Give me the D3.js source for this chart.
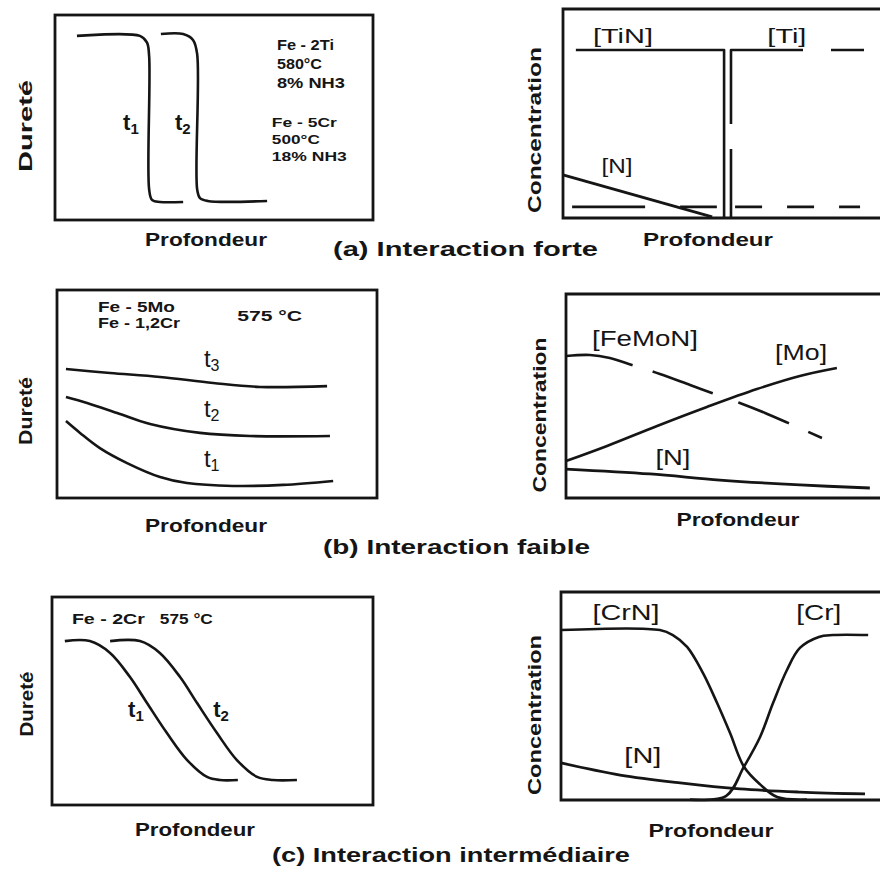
<!DOCTYPE html>
<html><head><meta charset="utf-8">
<script src="https://cdn.jsdelivr.net/npm/d3@7"></script>
<style>body{margin:0;background:#fff}svg{display:block}</style>
</head><body><svg id="c" width="880" height="872"></svg>
<script>
// ---------- DATA (depth, value) in 0..100 schematic units ----------
// (a) Interaction forte
const aDurT1 = [[6.9,89.8],[26.7,89.8],[28.9,86.6],[29.6,80],[29.6,15],[30.5,9.8],[33,8.8],[40.3,8.8]];
const aDurT2 = [[33.3,90.7],[40.3,90.7],[43.4,87.8],[44.7,81],[44.7,15],[45.6,10.7],[48,9.3],[66.7,9.3]];
const aConcTiN = [[4.1,80.4],[51.3,80.4],[51.3,0.5]];
const aConcTi = [[53.5,0.5],[53.5,80.4],[100,80.4]];
const aConcTiSurface = [[2.9,5.3],[49.0,5.3]];
const aConcTiNCore = [[54.8,5.3],[94.6,5.3]];
const aConcN = [[0,20.6],[47.5,0.5]];
// (b) Interaction faible
const bDurT3 = [[2.8,62.0],[16.6,60.1],[32.2,58.2],[48.8,55.3],[63.4,53.4],[84.4,53.8]];
const bDurT2 = [[2.8,48.6],[9.4,45.7],[18.8,40.9],[29.1,35.6],[44.7,31.3],[60.3,29.8],[85.3,29.8]];
const bDurT1 = [[2.8,37.0],[7.2,31.3],[13.4,24.0],[21.9,16.8],[32.2,10.1],[40.6,7.2],[55.0,5.8],[70.6,6.3],[86.3,8.2]];
const bConcFeMoN = [[0,69.6],[7.7,70.1],[14.1,68.6],[21.2,65.2],[30.2,60.8],[39.9,55.4],[46.9,51.5],[55.9,46.6],[64.0,41.7],[71.4,36.8],[82.3,29.4]];
const bConcMo = [[0,18.1],[13.2,25.5],[29.3,35.3],[45.3,44.6],[61.4,53.4],[75.2,59.8],[87.1,63.7]];
const bConcN = [[0,14.2],[27.0,11.8],[49.5,8.8],[75.2,6.4],[97.7,4.9]];
// (c) Interaction intermédiaire
const cDurT1 = [[4.0,78.8],[11.8,78.8],[18.1,73.1],[24.3,61.5],[29.6,49.0],[35.8,34.6],[42.1,21.6],[48.3,13.5],[52.3,12.0],[57.9,12.0]];
const cDurT2 = [[18.1,78.8],[27.4,78.8],[33.6,73.1],[39.9,61.5],[45.2,49.0],[51.4,34.6],[57.6,21.6],[63.9,13.5],[68.8,12.0],[76.3,12.0]];
const cConcCrN = [[0,81.7],[31.3,81.7],[35.4,79.3],[39.9,73.6],[44.9,61.1],[49.4,46.6],[53.5,32.2],[57.9,16.0],[63.0,7.5],[68.4,1.4],[77.8,0.2]];
const cConcCr = [[40.8,0.2],[52.2,1.9],[57.9,16.0],[63.0,30.3],[67.1,46.6],[71.5,62.5],[75.6,73.1],[81.6,78.4],[86.1,79.3],[97.2,79.3]];
const cConcN = [[0,17.8],[18.7,12.0],[37.7,8.2],[56.6,5.3],[75.6,3.8],[96.2,2.9]];

// text labels
const titles = ["(a) Interaction forte","(b) Interaction faible","(c) Interaction intermédiaire"];
const yLabelHard = "Dureté", yLabelConc = "Concentration", xLabel = "Profondeur";
const aNotes = ["Fe - 2Ti","580°C","8% NH3","Fe - 5Cr","500°C","18% NH3"];
const bNotes = ["Fe - 5Mo","Fe - 1,2Cr","575 °C"];
const cNotes = ["Fe - 2Cr","575 °C"];

// ---------- LAYOUT ----------
const svg = d3.select("#c");
svg.append("rect").attr("width",880).attr("height",872).attr("fill","#fff");
const INK = "#151515";
const FONT = "'Liberation Sans', Arial, Helvetica, sans-serif";

function panel(fr){
  const x = d3.scaleLinear().domain([0,100]).range([fr.x, fr.x+fr.w]);
  const y = d3.scaleLinear().domain([0,100]).range([fr.y+fr.h, fr.y]);
  const g = svg.append("g");
  if(fr.open){
    g.append("path").attr("d",`M${fr.x+fr.w+10},${fr.y}H${fr.x}V${fr.y+fr.h}H${fr.x+fr.w+10}`)
      .attr("fill","none").attr("stroke",INK).attr("stroke-width",2.8);
  } else {
    g.append("rect").attr("x",fr.x).attr("y",fr.y).attr("width",fr.w).attr("height",fr.h)
      .attr("fill","none").attr("stroke",INK).attr("stroke-width",2.8);
  }
  return {x,y,g};
}
function curve(p, data, opts={}){
  const gen = d3.line().x(d=>p.x(d[0])).y(d=>p.y(d[1]))
    .curve(opts.linear ? d3.curveLinear : d3.curveCatmullRom.alpha(0.5));
  const path = p.g.append("path").attr("d",gen(data)).attr("fill","none")
    .attr("stroke",INK).attr("stroke-width",opts.w||2.6).attr("stroke-linejoin","round");
  if(opts.dash) path.attr("stroke-dasharray",opts.dash);
  return path;
}
function text(g, str, x, y, o={}){
  const t = g.append("text").attr("x",x).attr("y",y).text(str)
    .attr("font-family",FONT).attr("font-size",o.size||14).attr("font-weight",o.weight||"bold")
    .attr("fill",INK).attr("text-anchor",o.anchor||"start");
  if(o.len) t.attr("textLength",o.len).attr("lengthAdjust","spacingAndGlyphs");
  return t;
}
function vtext(str, bx, cy, len, size){
  svg.append("text").attr("transform",`translate(${bx},${cy}) rotate(-90)`)
    .attr("text-anchor","middle").attr("font-family",FONT).attr("font-weight","bold")
    .attr("font-size",size).attr("fill",INK).attr("textLength",len)
    .attr("lengthAdjust","spacingAndGlyphs").text(str);
}
function tLabel(p, sub, d, v, weight, size){
  const t = p.g.append("text").attr("x",p.x(d)).attr("y",p.y(v))
    .attr("font-family",FONT).attr("font-weight",weight).attr("fill",INK).attr("font-size",size);
  t.append("tspan").text("t");
  t.append("tspan").text(sub).attr("font-size",Math.round(size*0.68)).attr("dy",4);
}

// ===== (a) =====
const aL = panel({x:55,y:15,w:318,h:205});
curve(aL, aDurT1); curve(aL, aDurT2);
tLabel(aL,"1",21.4,43.9,"bold",22); tLabel(aL,"2",37.7,43.9,"bold",22);
text(aL.g,aNotes[0],aL.x(69.8),aL.y(82.9),{size:14,len:57});
text(aL.g,aNotes[1],aL.x(69.8),aL.y(73.7),{size:14,len:45});
text(aL.g,aNotes[2],aL.x(69.8),aL.y(64.4),{size:14,len:68});
text(aL.g,aNotes[3],aL.x(68.2),aL.y(45.4),{size:13.5,len:65});
text(aL.g,aNotes[4],aL.x(68.2),aL.y(37.1),{size:13.5,len:48});
text(aL.g,aNotes[5],aL.x(68.2),aL.y(28.6),{size:13.5,len:75});
vtext(yLabelHard,32,126,92,19);
text(svg,xLabel,206,246,{size:19,anchor:"middle",len:122});

const aR = panel({x:563,y:9,w:314,h:209,open:true});
curve(aR, aConcTiN, {linear:true});
curve(aR, aConcTi, {linear:true, dash:"68,25,146,28,33,300"});
curve(aR, aConcTiSurface, {linear:true, dash:"73,35"});
curve(aR, aConcTiNCore, {linear:true, dash:"27,25"});
curve(aR, aConcN, {linear:true, w:2.8});
text(aR.g,"[TiN]",aR.x(19.1),aR.y(83.7),{size:21,weight:"normal",anchor:"middle",len:60});
text(aR.g,"[Ti]",aR.x(71.3),aR.y(83.7),{size:21,weight:"normal",anchor:"middle",len:39});
text(aR.g,"[N]",aR.x(17.2),aR.y(21.5),{size:21,weight:"normal",anchor:"middle",len:31});
vtext(yLabelConc,541,130,166,19);
text(svg,xLabel,708,246,{size:19,anchor:"middle",len:130});
text(svg,titles[0],333,256,{size:21,len:265});

// ===== (b) =====
const bL = panel({x:57,y:290,w:320,h:208});
curve(bL, bDurT3); curve(bL, bDurT2); curve(bL, bDurT1);
tLabel(bL,"3",45.9,63.0,"normal",24); tLabel(bL,"2",45.9,38.9,"normal",24); tLabel(bL,"1",45.9,14.9,"normal",24);
text(bL.g,bNotes[0],bL.x(12.8),bL.y(89.4),{size:14,len:77});
text(bL.g,bNotes[1],bL.x(12.8),bL.y(81.7),{size:14,len:82});
text(bL.g,bNotes[2],bL.x(56.3),bL.y(85.1),{size:14,len:65});
vtext(yLabelHard,32,411,68,19);
text(svg,xLabel,206,532,{size:19,anchor:"middle",len:122});

const bR = panel({x:566,y:294,w:311,h:204,open:true});
curve(bR, bConcFeMoN, {dash:"68,21,64,27,55,21,16,300"});
curve(bR, bConcMo);
curve(bR, bConcN, {w:2.8});
text(bR.g,"[FeMoN]",bR.x(25.4),bR.y(74.5),{size:22,weight:"normal",anchor:"middle",len:106});
text(bR.g,"[Mo]",bR.x(75.6),bR.y(67.6),{size:22,weight:"normal",anchor:"middle",len:52});
text(bR.g,"[N]",bR.x(34.4),bR.y(16.2),{size:22,weight:"normal",anchor:"middle",len:35});
vtext(yLabelConc,546,415,155,19);
text(svg,xLabel,738,526,{size:19,anchor:"middle",len:123});
text(svg,titles[1],323,554,{size:21,len:267});

// ===== (c) =====
const cL = panel({x:52,y:597,w:321,h:208});
curve(cL, cDurT1); curve(cL, cDurT2);
tLabel(cL,"1",23.7,42.3,"bold",22); tLabel(cL,"2",50.2,42.3,"bold",22);
text(cL.g,cNotes[0],cL.x(6.2),cL.y(87.0),{size:15,len:73});
text(cL.g,cNotes[1],cL.x(33.6),cL.y(87.0),{size:15,len:53});
vtext(yLabelHard,33,704,65,19);
text(svg,xLabel,195,836,{size:19,anchor:"middle",len:120});

const cR = panel({x:561,y:592,w:316,h:208,open:true});
curve(cR, cConcCrN); curve(cR, cConcCr); curve(cR, cConcN, {w:2.8});
text(cR.g,"[CrN]",cR.x(20.6),cR.y(86.5),{size:22,weight:"normal",anchor:"middle",len:67});
text(cR.g,"[Cr]",cR.x(81.6),cR.y(86.5),{size:22,weight:"normal",anchor:"middle",len:45});
text(cR.g,"[N]",cR.x(25.9),cR.y(17.8),{size:22,weight:"normal",anchor:"middle",len:37});
vtext(yLabelConc,541,715,160,19);
text(svg,xLabel,711,837,{size:19,anchor:"middle",len:125});
text(svg,titles[2],272,862,{size:21,len:358});
</script></body></html>
